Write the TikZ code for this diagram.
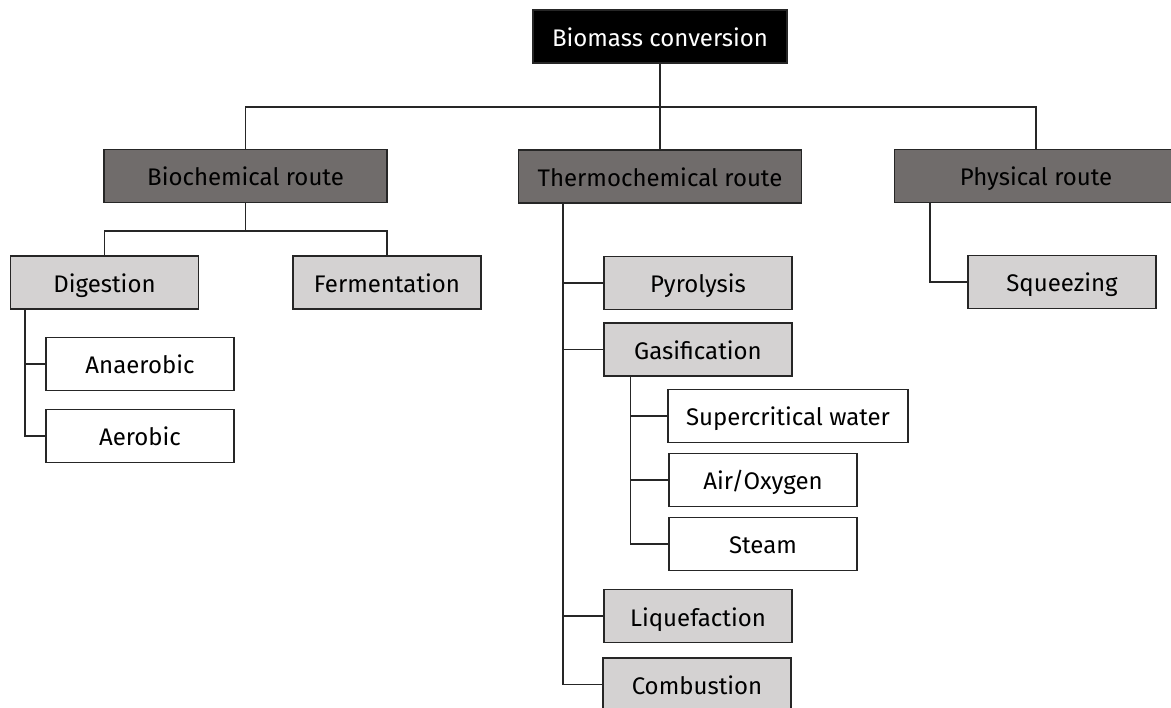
\documentclass[tikz,border=0pt]{standalone}
\usepackage{fontspec}
\setmainfont{Fira Sans}
\usetikzlibrary{positioning}
\definecolor{routegray}{RGB}{112,108,107}
\definecolor{methodgray}{RGB}{212,210,210}
\definecolor{edgegray}{RGB}{38,38,38}

\begin{document}
\begin{tikzpicture}[
    x=1pt, y=-1pt,
    box/.style={draw=edgegray, line width=1.5pt, minimum height=53pt, inner sep=0pt,
        text height=22pt, text depth=2pt, font=\fontsize{24}{28}\selectfont},
    root/.style={box, fill=black, text=white, minimum width=254pt},
    route/.style={box, fill=routegray, minimum width=283pt},
    method/.style={box, fill=methodgray, minimum width=188pt},
    leaf/.style={box, fill=white, minimum width=188pt},
    link/.style={draw=edgegray, line width=1.5pt}
]
\useasboundingbox (0,0) rectangle (1171,708);

% Top and routes
\node[root] (biomass) at (660,36.5) {Biomass conversion};
\node[route] (bio) at (245.5,176) {Biochemical route};
\node[route] (thermo) at (660,176.5) {Thermochemical route};
\node[route] (phys) at (1036,176) {Physical route};

% Biochemical branch
\node[method] (dig) at (104.5,282.5) {Digestion};
\node[method] (ferm) at (387,282.5) {Fermentation};
\node[leaf] (anaer) at (140,364) {Anaerobic};
\node[leaf] (aer) at (140,436) {Aerobic};

% Thermochemical branch
\node[method] (pyro) at (698,283) {Pyrolysis};
\node[method] (gasi) at (698,349.5) {Gasification};
\node[leaf, minimum width=240pt] (scw) at (788,416) {Supercritical water};
\node[leaf] (air) at (763,480) {Air/Oxygen};
\node[leaf] (steam) at (763,544) {Steam};
\node[method] (liq) at (698,616) {Liquefaction};
\node[method] (comb) at (697,684.5) {Combustion};

% Physical branch
\node[method] (squeeze) at (1062,282) {Squeezing};

% Connectors
\coordinate (bus) at (660,107);
\coordinate (bbus) at (245.5,231);
\coordinate (dtrunk) at ([xshift=15pt]dig.south west);
\coordinate (ttrunk) at ([xshift=45pt]thermo.south west);
\coordinate (gtrunk) at ([xshift=27pt]gasi.south west);
\coordinate (ptrunk) at ([xshift=36pt]phys.south west);

\draw[link] (biomass) -- (thermo);
\draw[link] (bio.north) |- (bus) -| (phys.north);
\draw[link] (bio) -- (bbus);
\draw[link] (dig.north) |- (bbus) -| (ferm.north);
\foreach \n in {anaer,aer} \draw[link] (\n.west) -| (dtrunk);
\foreach \n in {pyro,gasi,liq,comb} \draw[link] (\n.west) -| (ttrunk);
\foreach \n in {scw,air,steam} \draw[link] (\n.west) -| (gtrunk);
\draw[link] (squeeze.west) -| (ptrunk);
\end{tikzpicture}
\end{document}
